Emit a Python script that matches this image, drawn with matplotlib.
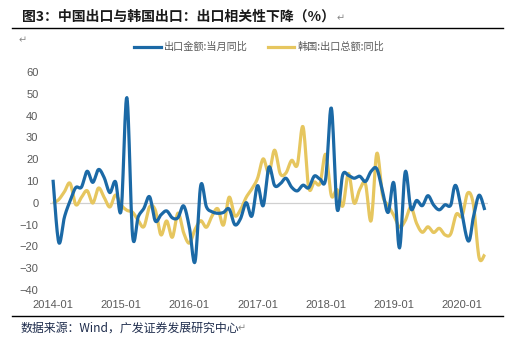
import numpy as np
import matplotlib
matplotlib.use("Agg")
import matplotlib.pyplot as plt
from matplotlib.lines import Line2D

plt.rcParams['font.family'] = ['Noto Sans CJK SC', 'DejaVu Sans']

# monthly data, 2014-01 .. 2020-05
china_exports = [
    10.6, -18.1, -6.6, 0.9, 7.0, 7.2, 14.5, 9.4, 15.3, 11.6, 4.7, 9.7,      # 2014
    -3.3, 48.3, -15.0, -6.4, -2.5, 2.8, -8.3, -5.5, -3.7, -6.9, -6.8, -1.4,  # 2015
    -11.2, -27.0, 8.0, -1.8, -4.1, -4.8, -4.4, -2.8, -10.0, -7.3, 0.1, -6.1, # 2016
    7.9, -1.3, 16.4, 8.0, 8.7, 11.3, 7.2, 5.5, 8.1, 6.9, 12.3, 10.9,        # 2017
    11.1, 43.5, -2.7, 12.9, 12.6, 11.3, 12.2, 9.8, 14.5, 15.6, 5.4, -4.4,    # 2018
    9.1, -20.7, 14.2, -2.7, 1.1, -1.3, 3.3, -1.0, -3.2, -0.9, -1.1, 7.6,     # 2019
    np.nan, -17.2, -6.6, 3.5, -3.3,                                        # 2020
]
korea_exports = [
    -0.2, 1.5, 5.1, 9.0, -0.8, 2.5, 5.6, -0.1, 6.8, 2.5, -1.9, 3.6,         # 2014
    -1.0, -3.4, -4.3, -8.1, -10.9, -1.8, -3.3, -14.7, -8.3, -15.8, -4.7, -13.8,
    -18.5, -12.2, -8.2, -11.2, -6.0, -2.7, -10.2, 2.6, -5.9, -3.2, 2.5, 6.4,
    11.2, 20.2, 13.7, 24.2, 13.4, 13.7, 19.5, 17.4, 35.0, 7.1, 9.6, 8.9,
    22.3, 3.3, 6.1, -1.5, 13.5, -0.1, 6.2, 8.7, -8.2, 22.7, 3.6, -1.2,
    -5.8, -11.1, -8.2, -2.0, -9.4, -13.5, -11.0, -13.6, -11.7, -14.7, -14.3, -5.2,
    -6.1, 4.5, -0.7, -25.1, -23.7,
]
year_labels = ['2014-01', '2015-01', '2016-01', '2017-01', '2018-01', '2019-01', '2020-01']
series_names = ['出口金额:当月同比', '韩国:出口总额:同比']

blue = '#1b69a6'
gold = '#e6c65f'


def smooth(x, y, n=12):
    # catmull-rom style smoothing like excel's "smoothed line"
    x = np.asarray(x, float)
    y = np.asarray(y, float)
    ok = ~np.isnan(y)
    x, y = x[ok], y[ok]
    px = np.concatenate([[x[0]], x, [x[-1]]])
    py = np.concatenate([[y[0]], y, [y[-1]]])
    xs, ys = [], []
    t = np.linspace(0, 1, n, endpoint=False)
    for i in range(1, len(px) - 2):
        p0, p1, p2, p3 = [np.array([px[j], py[j]]) for j in (i - 1, i, i + 1, i + 2)]
        c1 = p1 + (p2 - p0) / 6
        c2 = p2 - (p3 - p1) / 6
        b = ((1 - t) ** 3)[:, None] * p1 + (3 * (1 - t) ** 2 * t)[:, None] * c1 \
            + (3 * (1 - t) * t ** 2)[:, None] * c2 + (t ** 3)[:, None] * p2
        xs.extend(b[:, 0])
        ys.extend(b[:, 1])
    xs.append(x[-1])
    ys.append(y[-1])
    return xs, ys


fig = plt.figure(figsize=(5.08, 3.48), dpi=100)
ax = fig.add_axes([0.0988, 0.1667, 0.861, 0.626])

months = np.arange(len(china_exports))
ax.axhline(0, color='#d0d0d0', lw=0.9, zorder=1)
sx, sy = smooth(months, china_exports)
ax.plot(sx, sy, color=blue, lw=2.3, solid_capstyle='butt', zorder=3)
kx, ky = smooth(months, korea_exports)
ax.plot(kx, ky, color=gold, lw=2.3, solid_capstyle='butt', zorder=2)

ax.set_xlim(-0.5, len(china_exports) - 0.5)
ax.set_ylim(-40, 60)
ax.set_yticks(range(-40, 61, 10))
ax.set_xticks(np.arange(len(year_labels)) * 12)
ax.set_xticklabels(year_labels)
for s in ax.spines.values():
    s.set_visible(False)
ax.tick_params(axis='both', length=0, labelsize=8, labelcolor='#595959')
ax.tick_params(axis='x', pad=7)
ax.tick_params(axis='y', pad=8.5)
for lab in ax.get_xticklabels() + ax.get_yticklabels():
    lab.set_family(['Liberation Sans', 'DejaVu Sans'])

handles = [Line2D([], [], color=blue, lw=2.3), Line2D([], [], color=gold, lw=2.3)]
leg = fig.legend(handles, series_names, loc='center', bbox_to_anchor=(0.51, 0.865),
                 ncol=2, frameon=False, fontsize=7.3, handlelength=2.6,
                 handletextpad=0.3, columnspacing=2.0)
for t in leg.get_texts():
    t.set_color('#595959')

# title, rules and source note
fig.text(0.043, 0.951, '图3：中国出口与韩国出口：出口相关性下降（%）', fontsize=10,
         fontweight='bold', color='#1a1a1a', va='center')
fig.text(0.662, 0.948, '↵', fontsize=7, color='#888888', va='center')
fig.text(0.037, 0.885, '↵', fontsize=7, color='#888888', va='center')
fig.add_artist(Line2D([0.024, 0.99], [0.920, 0.920], color='black', lw=1.0))
fig.add_artist(Line2D([0.024, 0.99], [0.092, 0.092], color='black', lw=1.0))
fig.text(0.04, 0.057, '数据来源：Wind，广发证券发展研究中心', fontsize=8.6,
         color='#1f2d4d', va='center')
fig.text(0.468, 0.057, '↵', fontsize=7, color='#888888', va='center')

fig.savefig('out.png', dpi=100)
